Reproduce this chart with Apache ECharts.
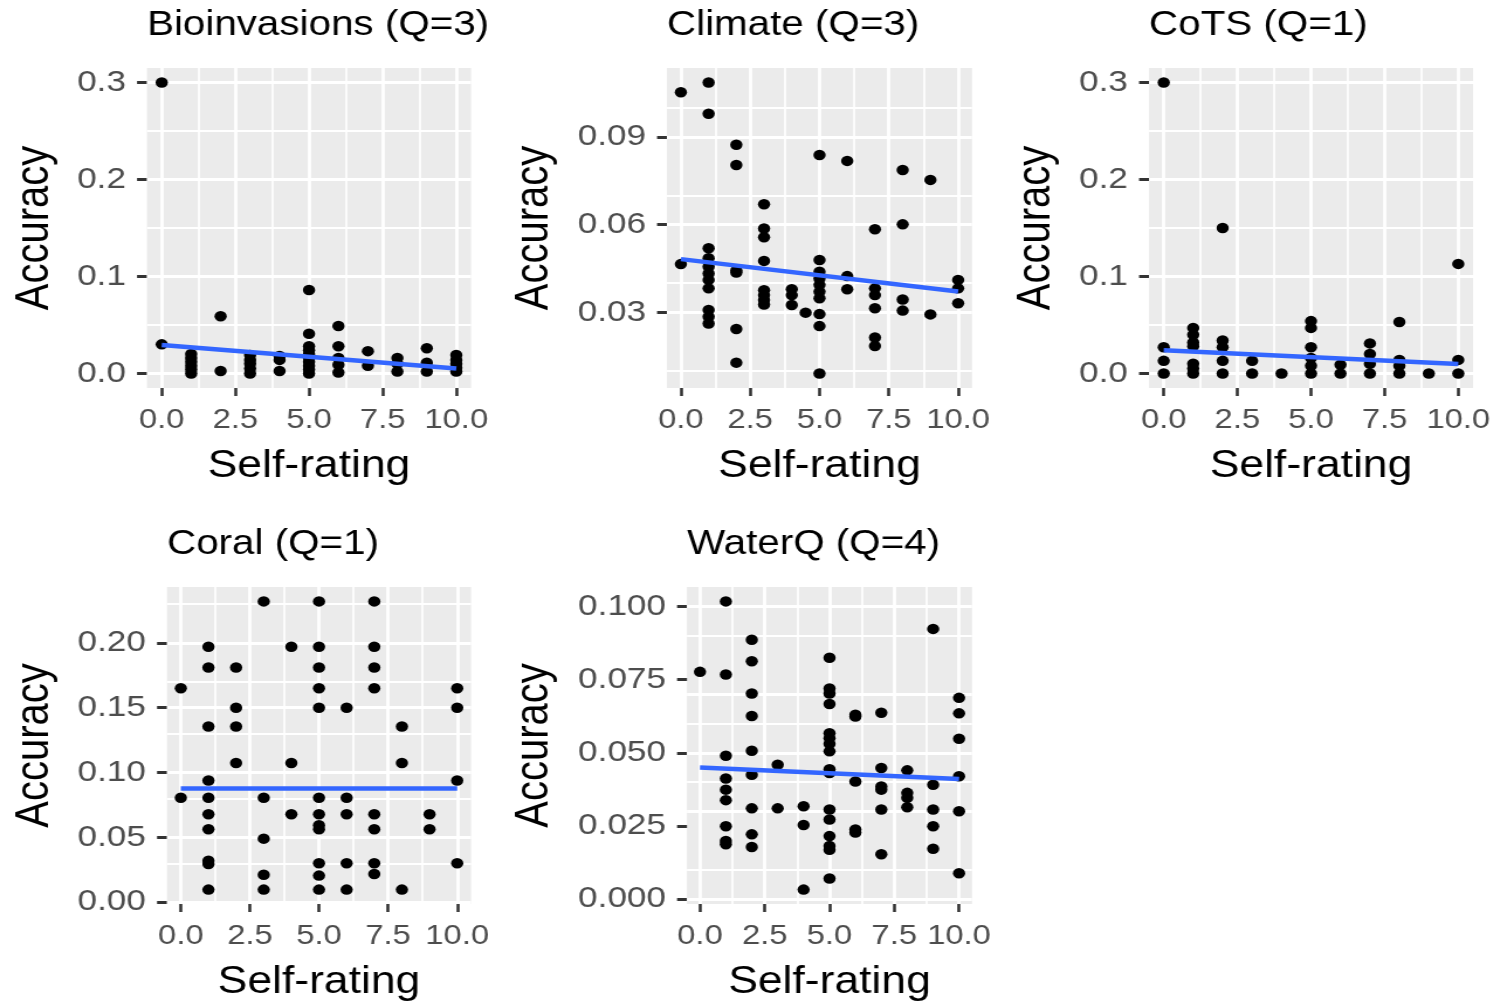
<!DOCTYPE html>
<html><head><meta charset="utf-8">
<script src="https://cdn.jsdelivr.net/npm/echarts@6/dist/echarts.min.js"></script>
<style>
html,body{margin:0;padding:0;background:#fff;overflow:hidden;width:1496px;height:1003px;}
#chart{position:absolute;left:0;top:0;height:1003px;transform-origin:0 0;}
</style></head><body><div id="chart"></div>
<script>
// ---------------- DATA ----------------
const panelTitles = ['Bioinvasions (Q=3)', 'Climate (Q=3)', 'CoTS (Q=1)', 'Coral (Q=1)', 'WaterQ (Q=4)'];
const xAxisTitle = 'Self-rating';
const yAxisTitle = 'Accuracy';
const xTickLabels = ['0.0', '2.5', '5.0', '7.5', '10.0'];

// [self-rating, accuracy]
const bioPoints = [
  [0,0.30],[0,0.030],
  [1,0.0],[1,0.004],[1,0.008],[1,0.012],[1,0.016],[1,0.020],
  [2,0.059],[2,0.0025],
  [3,0.0],[3,0.005],[3,0.010],[3,0.014],[3,0.019],
  [4,0.018],[4,0.014],[4,0.0025],
  [5,0.086],[5,0.041],[5,0.028],[5,0.024],[5,0.020],[5,0.016],[5,0.012],[5,0.008],[5,0.004],[5,0.0],
  [6,0.049],[6,0.028],[6,0.016],[6,0.009],[6,0.001],
  [7,0.023],[7,0.008],
  [8,0.016],[8,0.010],[8,0.002],
  [9,0.026],[9,0.011],[9,0.002],
  [10,0.019],[10,0.014],[10,0.010],[10,0.006],[10,0.002]
];
const climatePoints = [
  [0,0.1053],[0,0.0465],
  [1,0.1086],[1,0.0979],[1,0.0519],[1,0.0485],[1,0.0456],[1,0.0433],[1,0.0411],[1,0.0382],[1,0.0308],[1,0.0285],[1,0.0262],
  [2,0.0873],[2,0.0804],[2,0.0443],[2,0.0436],[2,0.0243],[2,0.0128],
  [3,0.0670],[3,0.0587],[3,0.0557],[3,0.0476],[3,0.0376],[3,0.0359],[3,0.0342],[3,0.0327],
  [4,0.0379],[4,0.0359],[4,0.0325],
  [4.5,0.0299],
  [5,0.0838],[5,0.0479],[5,0.0439],[5,0.0416],[5,0.0394],[5,0.0371],[5,0.0348],[5,0.0294],[5,0.0253],[5,0.0091],
  [6,0.0818],[6,0.0424],[6,0.0379],
  [7,0.0584],[7,0.0382],[7,0.0359],[7,0.0314],[7,0.0214],[7,0.0185],
  [8,0.0787],[8,0.0601],[8,0.0344],[8,0.0306],
  [9,0.0753],[9,0.0293],
  [10,0.0411],[10,0.0382],[10,0.0331]
];
const cotsPoints = [
  [0,0.30],[0,0.027],[0,0.013],[0,0.0],
  [1,0.047],[1,0.040],[1,0.032],[1,0.028],[1,0.010],[1,0.005],[1,0.0],
  [2,0.150],[2,0.034],[2,0.027],[2,0.013],[2,0.0],
  [3,0.013],[3,0.0],
  [4,0.0],
  [5,0.054],[5,0.047],[5,0.027],[5,0.016],[5,0.008],[5,0.0],
  [6,0.009],[6,0.0],
  [7,0.031],[7,0.020],[7,0.010],[7,0.0],
  [8,0.053],[8,0.014],[8,0.008],[8,0.0],
  [9,0.0],
  [10,0.113],[10,0.014],[10,0.0]
];
const coralPoints = [
  [0,0.165],[0,0.0806],
  [1,0.197],[1,0.181],[1,0.1355],[1,0.0939],[1,0.0806],[1,0.0678],[1,0.0563],[1,0.032],[1,0.0294],[1,0.0097],
  [2,0.181],[2,0.150],[2,0.1355],[2,0.1074],
  [3,0.232],[3,0.0806],[3,0.049],[3,0.0212],[3,0.0097],
  [4,0.197],[4,0.1074],[4,0.0678],
  [5,0.232],[5,0.197],[5,0.181],[5,0.165],[5,0.150],[5,0.0806],[5,0.0678],[5,0.0593],[5,0.0563],[5,0.030],[5,0.0205],[5,0.0097],
  [6,0.150],[6,0.0806],[6,0.0678],[6,0.030],[6,0.0097],
  [7,0.232],[7,0.197],[7,0.181],[7,0.165],[7,0.0678],[7,0.0563],[7,0.030],[7,0.0217],
  [8,0.1355],[8,0.1074],[8,0.0097],
  [9,0.0678],[9,0.0563],
  [10,0.165],[10,0.150],[10,0.0939],[10,0.030]
];
const waterqPoints = [
  [0,0.0777],
  [1,0.1018],[1,0.0768],[1,0.049],[1,0.0412],[1,0.0374],[1,0.0338],[1,0.0249],[1,0.0198],[1,0.0187],
  [2,0.0887],[2,0.0813],[2,0.0703],[2,0.0626],[2,0.0507],[2,0.0425],[2,0.031],[2,0.0221],[2,0.0178],
  [3,0.0459],[3,0.031],
  [4,0.0317],[4,0.0253],[4,0.0032],
  [5,0.0825],[5,0.072],[5,0.0703],[5,0.0667],[5,0.0567],[5,0.055],[5,0.0531],[5,0.0505],[5,0.0444],[5,0.0431],[5,0.0306],[5,0.0272],[5,0.0215],[5,0.0181],[5,0.0168],[5,0.007],
  [6,0.063],[6,0.0624],[6,0.0402],[6,0.0238],[6,0.0227],
  [7,0.0637],[7,0.0448],[7,0.0385],[7,0.0374],[7,0.0306],[7,0.0153],
  [8,0.044],[8,0.0363],[8,0.0346],[8,0.0314],
  [9,0.0924],[9,0.0391],[9,0.0306],[9,0.0249],[9,0.0172],
  [10,0.0688],[10,0.0635],[10,0.0548],[10,0.042],[10,0.030],[10,0.0088]
];

// fitted linear trend at self-rating 0 and 10
const fitX = [0, 10];
const bioFit = [0.0293, 0.0052];
const climateFit = [0.0482, 0.0371];
const cotsFit = [0.0240, 0.0097];
const coralFit = [0.0877, 0.0877];
const waterqFit = [0.0450, 0.0410];

// y tick labels
const bioYTicks = ['0.0', '0.1', '0.2', '0.3'];
const climateYTicks = ['0.03', '0.06', '0.09'];
const cotsYTicks = ['0.0', '0.1', '0.2', '0.3'];
const coralYTicks = ['0.00', '0.05', '0.10', '0.15', '0.20'];
const waterqYTicks = ['0.000', '0.025', '0.050', '0.075', '0.100'];

// ---------------- LAYOUT ----------------
const S = 1.17; // horizontal stretch of the reference picture
const el = document.getElementById('chart');
el.style.width = (1496 / S) + 'px';
el.style.transform = 'scaleX(' + S + ')';

const FONT = '"Liberation Sans", Arial, Helvetica, sans-serif';
const panels = [
  {points: bioPoints, fit: bioFit, yTicks: bioYTicks, box: [147, 471, 68, 388], yNameX: 49},
  {points: climatePoints, fit: climateFit, yTicks: climateYTicks, box: [667, 972, 68, 388], yNameX: 549},
  {points: cotsPoints, fit: cotsFit, yTicks: cotsYTicks, box: [1149, 1473, 68, 388], yNameX: 1051},
  {points: coralPoints, fit: coralFit, yTicks: coralYTicks, box: [167, 471, 587, 906], yNameX: 49},
  {points: waterqPoints, fit: waterqFit, yTicks: waterqYTicks, box: [687, 972, 587, 905], yNameX: 549}
];

const option = {
  animation: false,
  backgroundColor: '#ffffff',
  title: [], grid: [], xAxis: [], yAxis: [], series: []
};

const xTickVals = xTickLabels.map(Number);
const xMin = -0.5, xMax = 10.5;

panels.forEach((p, i) => {
  const [l, r, t, b] = p.box;
  const ys = p.points.map(d => d[1]);
  const yLo = Math.min(...ys), yHi = Math.max(...ys);
  const span = yHi - yLo;
  const yMin = yLo - 0.05 * span, yMax = yHi + 0.05 * span;
  const yTickVals = p.yTicks.map(Number);

  option.title.push({
    text: panelTitles[i], left: l / S, top: t - 60, padding: 0,
    textStyle: {fontSize: 34.5, fontWeight: 'normal', color: '#000', fontFamily: FONT}
  });
  option.grid.push({
    left: l / S, width: (r - l) / S, top: t, height: b - t,
    show: true, backgroundColor: '#EBEBEB', borderWidth: 0, containLabel: false, z: 0
  });
  const labelFor = (labels) => (v) => {
    const m = labels.find(s => Math.abs(Number(s) - v) < 1e-9);
    return m === undefined ? '' : m;
  };
  option.xAxis.push({
    type: 'value', gridIndex: i, min: xMin, max: xMax, position: 'bottom',
    axisLine: {show: false, onZero: false}, splitLine: {show: false},
    axisTick: {show: true, length: 8, customValues: xTickVals, lineStyle: {color: '#333333', width: 3 / S}},
    axisLabel: {customValues: xTickVals, formatter: labelFor(xTickLabels), color: '#4D4D4D', fontSize: 28, margin: 18, fontFamily: FONT},
    name: xAxisTitle, nameLocation: 'middle', nameGap: 60,
    nameTextStyle: {fontSize: 38, color: '#000', fontFamily: FONT}
  });
  option.yAxis.push({
    type: 'value', gridIndex: i, min: yMin, max: yMax, position: 'left',
    axisLine: {show: false, onZero: false}, splitLine: {show: false},
    axisTick: {show: true, length: 8.5, customValues: yTickVals, lineStyle: {color: '#333333', width: 3}},
    axisLabel: {customValues: yTickVals, formatter: labelFor(p.yTicks), color: '#4D4D4D', fontSize: 30, margin: 18, fontFamily: FONT, padding: [8, 0, 0, 0]},
    name: yAxisTitle, nameLocation: 'middle', nameGap: (l - p.yNameX) / S - 8,
    nameTextStyle: {fontSize: 40, color: '#000', fontFamily: FONT}
  });

  // panel grid lines (major at ticks, minor halfway)
  const lines = [];
  const addLines = (vals, key, lo, hi, width) => {
    vals.forEach(v => { if (v > lo && v < hi) lines.push({[key]: v, lineStyle: {color: '#FFFFFF', width: width, type: 'solid'}}); });
  };
  const mids = (vals) => {
    const st = vals[1] - vals[0];
    const out = [vals[0] - st / 2];
    vals.forEach(v => out.push(v + st / 2));
    return out;
  };
  addLines(mids(xTickVals), 'xAxis', xMin, xMax, 1.7);
  addLines(mids(yTickVals), 'yAxis', yMin, yMax, 1.8);
  addLines(xTickVals, 'xAxis', xMin, xMax, 2.8);
  addLines(yTickVals, 'yAxis', yMin, yMax, 3.2);

  option.series.push({
    type: 'scatter', xAxisIndex: i, yAxisIndex: i, data: [], z: 1, silent: true,
    markLine: {z: 1, silent: true, symbol: ['none', 'none'], label: {show: false}, animation: false,
      lineStyle: {type: 'solid', color: '#FFFFFF'}, emphasis: {disabled: true}, data: lines}
  });
  option.series.push({
    type: 'scatter', xAxisIndex: i, yAxisIndex: i, data: p.points, z: 3,
    symbol: 'circle', symbolSize: 10.5, itemStyle: {color: '#000000', opacity: 1}, silent: true
  });
  option.series.push({
    type: 'line', xAxisIndex: i, yAxisIndex: i, z: 4, silent: true,
    data: fitX.map((x, k) => [x, p.fit[k]]), symbol: 'none',
    lineStyle: {color: '#3366FF', width: 4.5}
  });
});

const chart = echarts.init(el, null, {renderer: 'canvas'});
chart.setOption(option);
</script></body></html>
